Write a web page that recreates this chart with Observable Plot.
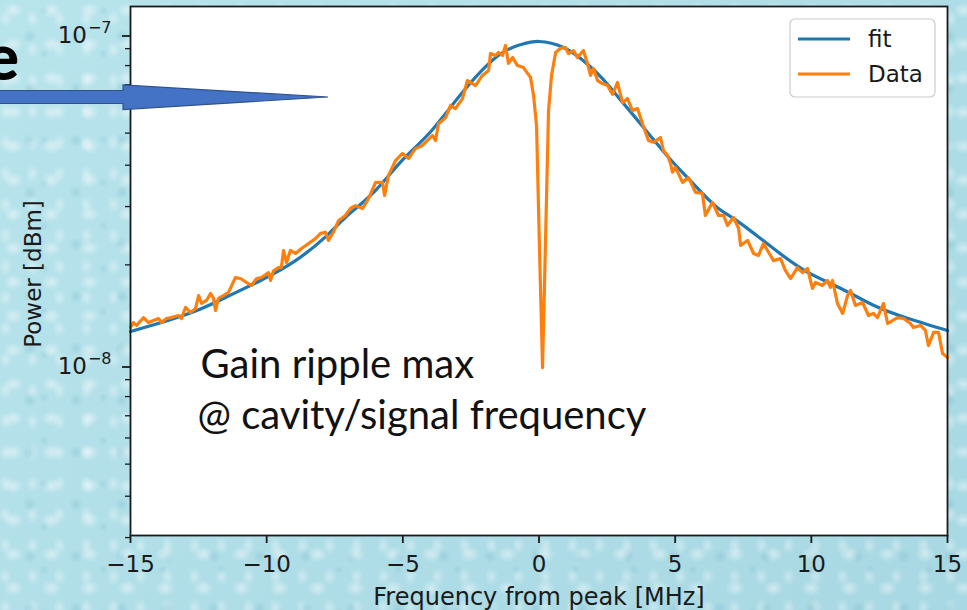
<!DOCTYPE html>
<html>
<head>
<meta charset="utf-8">
<script src="https://cdn.jsdelivr.net/npm/d3@7"></script>
<script src="https://cdn.jsdelivr.net/npm/@observablehq/plot@0.6"></script>
<style>
  html, body { margin: 0; padding: 0; }
  body {
    width: 967px; height: 610px; overflow: hidden;
    background-color: #aedbe5;
    background-image:
      radial-gradient(ellipse 10px 8px at 35% 30%, rgba(255,255,255,0.45), rgba(255,255,255,0)),
      radial-gradient(circle at 65% 70%, rgba(70,150,175,0.18) 0, rgba(70,150,175,0) 7px),
      radial-gradient(ellipse 7px 9px at 20% 60%, rgba(255,255,255,0.35), rgba(255,255,255,0)),
      radial-gradient(circle at 75% 25%, rgba(80,160,185,0.15) 0, rgba(80,160,185,0) 5px),
      linear-gradient(135deg, #b8e4ec, #a8d8e3);
    background-size: 38px 34px, 46px 52px, 27px 31px, 59px 43px, 100% 100%;
  }
  #stage { position: relative; width: 967px; height: 610px; }
  #stage > svg { position: absolute; left: 0; top: 0; }
</style>
</head>
<body>
<div id="stage"></div>
<script>
// Measured spectrum: frequency offset from peak (MHz) and power (in units of 1e-8)
const freq = [
  -15.00, -14.89, -14.78, -14.52, -14.34, -14.16, -13.97, -13.86, -13.68, -13.50,
  -13.24, -13.13, -12.98, -12.80, -12.61, -12.50, -12.39, -12.21, -12.06, -11.95,
  -11.88, -11.77, -11.59, -11.40, -11.15, -10.96, -10.74, -10.56, -10.37, -10.19,
  -9.93, -9.86, -9.75, -9.57, -9.46, -9.38, -9.27, -9.13, -8.94, -8.72,
  -8.46, -8.21, -8.02, -7.84, -7.73, -7.55, -7.36, -7.11, -6.92, -6.74,
  -6.48, -6.26, -6.00, -5.75, -5.67, -5.53, -5.27, -5.01, -4.79, -4.54,
  -4.28, -3.91, -3.80, -3.69, -3.43, -3.25, -3.07, -2.81, -2.63, -2.33,
  -2.08, -1.85, -1.78, -1.60, -1.49, -1.34, -1.23, -1.12, -0.97, -0.79,
  -0.57, -0.42, -0.31, -0.20, -0.09, 0.02, 0.13, 0.24, 0.35, 0.46,
  0.61, 0.79, 0.97, 1.08, 1.27, 1.41, 1.63, 1.78, 1.89, 2.00,
  2.15, 2.33, 2.52, 2.70, 2.88, 3.07, 3.25, 3.43, 3.62, 3.80,
  4.02, 4.21, 4.46, 4.57, 4.72, 4.83, 4.90, 5.01, 5.27, 5.49,
  5.75, 6.00, 6.11, 6.37, 6.59, 6.78, 6.92, 7.14, 7.33, 7.40,
  7.66, 7.88, 8.06, 8.24, 8.50, 8.61, 8.87, 9.05, 9.24, 9.49,
  9.68, 9.86, 10.04, 10.15, 10.41, 10.59, 10.70, 10.78, 10.96, 11.15,
  11.33, 11.44, 11.62, 11.88, 12.10, 12.28, 12.43, 12.65, 12.80, 12.98,
  13.16, 13.39, 13.64, 13.75, 14.01, 14.19, 14.30, 14.49, 14.67, 14.82,
  15.00
];
const power = [
  1.294, 1.339, 1.312, 1.386, 1.339, 1.358, 1.377, 1.339, 1.377, 1.386,
  1.406, 1.377, 1.487, 1.436, 1.477, 1.616, 1.529, 1.561, 1.639, 1.584,
  1.456, 1.584, 1.616, 1.651, 1.831, 1.819, 1.769, 1.733, 1.819, 1.831,
  1.895, 1.794, 1.920, 1.963, 1.963, 2.210, 2.030, 2.210, 2.165, 2.240,
  2.320, 2.400, 2.490, 2.510, 2.370, 2.510, 2.720, 2.820, 2.960, 3.020,
  2.960, 3.170, 3.550, 3.550, 3.240, 3.720, 4.130, 4.340, 4.190, 4.490,
  4.590, 4.920, 4.750, 5.340, 5.570, 6.060, 5.930, 6.360, 7.210, 6.960,
  7.470, 7.730, 8.700, 8.580, 8.760, 8.580, 9.200, 8.120, 8.460, 8.000,
  7.890, 7.580, 7.370, 6.500, 5.270, 2.210, 0.979, 2.370, 5.850, 7.470,
  8.760, 9.020, 9.080, 8.700, 8.880, 8.460, 8.880, 8.120, 7.470, 7.840,
  7.210, 7.060, 6.960, 6.550, 7.110, 6.180, 6.360, 5.850, 5.930, 5.340,
  4.750, 4.690, 4.850, 4.430, 4.280, 4.050, 3.810, 3.940, 3.550, 3.670,
  3.310, 3.290, 2.820, 3.090, 2.820, 2.820, 2.630, 2.780, 2.580, 2.290,
  2.370, 2.165, 2.135, 2.320, 2.135, 2.060, 2.090, 1.920, 1.819, 1.963,
  1.895, 1.950, 1.697, 1.769, 1.733, 1.794, 1.709, 1.794, 1.529, 1.427,
  1.616, 1.674, 1.508, 1.540, 1.406, 1.427, 1.386, 1.529, 1.330, 1.358,
  1.386, 1.377, 1.330, 1.294, 1.312, 1.267, 1.141, 1.250, 1.250, 1.079,
  1.050
];

// Fitted line shape (same units)
const fitFreq = [
  -15.00, -13.86, -12.61, -11.40, -10.19, -8.94, -7.84, -7.11, -6.00, -5.01,
  -3.98, -2.77, -1.52, -0.68, 0.00, 0.90, 1.71, 2.33, 2.92, 3.54,
  4.17, 4.76, 5.38, 6.00, 6.59, 7.40, 8.61, 9.86, 11.07, 12.28,
  13.53, 15.00
];
const fitPower = [
  1.258, 1.340, 1.450, 1.610, 1.800, 2.060, 2.430, 2.780, 3.360, 4.150,
  5.050, 6.700, 8.550, 9.250, 9.460, 9.070, 8.170, 7.310, 6.410, 5.570,
  4.820, 4.220, 3.720, 3.290, 2.960, 2.670, 2.240, 1.900, 1.700, 1.510,
  1.380, 1.267
];
const POWER_UNIT = 1e-8;

// Axis ticks and labels
const xTicks = [-15, -10, -5, 0, 5, 10, 15];
const yMajor = [1e-8, 1e-7];
const yMajorExponents = ["\u22128", "\u22127"];
const yMinor = [3e-9, 4e-9, 5e-9, 6e-9, 7e-9, 8e-9, 9e-9,
                2e-8, 3e-8, 4e-8, 5e-8, 6e-8, 7e-8, 8e-8, 9e-8];
const xLabel = "Frequency from peak [MHz]";
const yLabel = "Power [dBm]";

// Legend entries
const seriesNames = ["fit", "Data"];
const seriesColors = ["#1f77b4", "#ff7f0e"];

// Annotation
const noteLines = ["Gain ripple max", "@ cavity/signal frequency"];

const dataRows = freq.map((f, i) => ({f, p: power[i] * POWER_UNIT}));
const fitRows = fitFreq.map((f, i) => ({f, p: fitPower[i] * POWER_UNIT}));

const fmtX = v => (v < 0 ? "\u2212" + Math.abs(v) : String(v));
const ink = "#1a1a1a";
const dv = "'DejaVu Sans', sans-serif";
const SUP = "^";

const chart = Plot.plot({
  width: 967,
  height: 610,
  marginLeft: 130,
  marginRight: 20,
  marginTop: 6,
  marginBottom: 75,
  style: {background: "transparent", fontFamily: dv, fontSize: "23px", color: ink},
  x: {domain: [-15, 15], label: null},
  y: {type: "log", domain: [3.0437e-9, 1.2066e-7], label: null},
  marks: [
    Plot.frame({fill: "white", stroke: null}),
    Plot.line(fitRows, {x: "f", y: "p", stroke: seriesColors[0], strokeWidth: 3.2, curve: "natural"}),
    Plot.line(dataRows, {x: "f", y: "p", stroke: seriesColors[1], strokeWidth: 3.2, strokeLinejoin: "round"}),
    Plot.axisY(yMinor, {tickSize: 5, strokeWidth: 1.3, tickFormat: () => "", label: null}),
    Plot.axisY(yMajor, {tickSize: 8, strokeWidth: 1.8, tickPadding: 11, fontSize: 23, dy: 2.5,
      tickFormat: d => "10" + SUP + yMajorExponents[yMajor.indexOf(d)], label: null}),
    Plot.axisX(xTicks, {tickSize: 8, strokeWidth: 1.8, tickPadding: 12, fontSize: 23,
      tickFormat: fmtX, label: null}),
    Plot.frame({stroke: ink, strokeWidth: 1.8}),
    Plot.text([xLabel], {text: d => d, frameAnchor: "bottom", dy: 69, lineAnchor: "bottom",
      textAnchor: "middle", fontSize: 24, fill: ink}),
    Plot.text([yLabel], {text: d => d, frameAnchor: "left", dx: -97, dy: 3, rotate: -90,
      textAnchor: "middle", lineAnchor: "middle", fontSize: 23, fill: ink}),
    Plot.text([noteLines[0]], {text: d => d, frameAnchor: "top-left", dx: 70, dy: 371, lineAnchor: "bottom",
      textAnchor: "start", fontFamily: "Lato, sans-serif", fontSize: 40, fill: "#111"}),
    Plot.text([noteLines[1]], {text: d => d, frameAnchor: "top-left", dx: 67, dy: 422, lineAnchor: "bottom",
      textAnchor: "start", fontFamily: "Lato, sans-serif", fontSize: 40, fill: "#111"})
  ]
});

// Power-of-ten tick labels: set the exponent as a raised, smaller tspan
d3.select(chart).selectAll("text").each(function () {
  const t = this.textContent;
  if (!t.includes(SUP)) return;
  const [base, exp] = t.split(SUP);
  const sel = d3.select(this);
  const tspanHolder = sel.select("tspan").empty() ? sel : sel.select("tspan");
  tspanHolder.text(base);
  tspanHolder.append("tspan").attr("font-size", 16).attr("dy", -10).attr("dx", 1).text(exp);
});

const stage = document.getElementById("stage");
stage.appendChild(chart);

// Legend box and the slide's arrow callout drawn on top of the chart
const over = d3.select(stage).append("svg")
  .attr("width", 967).attr("height", 610)
  .style("pointer-events", "none");

const lg = over.append("g").attr("transform", "translate(790,19)");
lg.append("rect").attr("width", 145).attr("height", 78).attr("rx", 5)
  .attr("fill", "white").attr("fill-opacity", 0.85)
  .attr("stroke", "#cccccc").attr("stroke-width", 1.2);
seriesNames.forEach((name, i) => {
  const yy = 20 + i * 35;
  lg.append("line").attr("x1", 8).attr("x2", 60).attr("y1", yy).attr("y2", yy)
    .attr("stroke", seriesColors[i]).attr("stroke-width", 3.2);
  lg.append("text").attr("x", 78).attr("y", yy + 8)
    .attr("font-family", dv).attr("font-size", 23).attr("fill", ink).text(name);
});

over.append("text").attr("x", 19).attr("y", 80)
  .attr("text-anchor", "end")
  .attr("font-family", "Lato, sans-serif").attr("font-weight", 900)
  .attr("font-size", 64).attr("fill", "#000").text("e");

over.append("polygon")
  .attr("points", "-5,90.5 123,90.5 123,85 328,97 123,109.5 123,103.5 -5,103.5")
  .attr("fill", "#4472c4").attr("stroke", "#2f528f").attr("stroke-width", 1.2);
</script>
</body>
</html>
